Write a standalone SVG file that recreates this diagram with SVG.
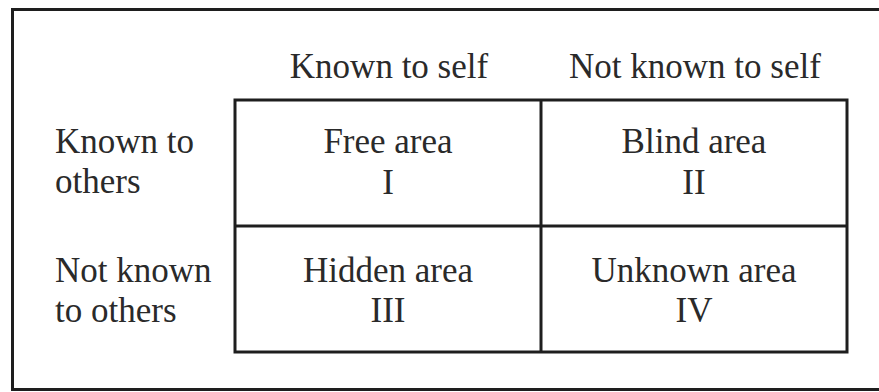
<svg xmlns="http://www.w3.org/2000/svg" width="879" height="392" viewBox="0 0 879 392">
<style>
.t{font-family:"Liberation Serif","Times New Roman",serif;font-size:35px;fill:#2a2a2a}
.c{text-anchor:middle}
.ln{stroke:#1e1e1e;stroke-width:3;fill:none}
</style>
<rect width="879" height="392" fill="#fff"/>
<path class="ln" d="M885,9.5 H12.5 V389.5 H885" stroke-width="3.5"/>
<g id="col-headers">
<text class="t c" x="389" y="78">Known to self</text>
<text class="t c" x="695" y="78">Not known to self</text>
</g>
<g id="row-headers">
<text class="t" x="55" y="153">Known to</text>
<text class="t" x="55" y="193">others</text>
<text class="t" x="55" y="282">Not known</text>
<text class="t" x="55" y="322">to others</text>
</g>
<g id="grid">
<rect class="ln" x="235" y="100" width="612" height="252"/>
<line class="ln" x1="541" y1="100" x2="541" y2="352"/>
<line class="ln" x1="235" y1="226" x2="847" y2="226"/>
</g>
<g id="free">
<text class="t c" x="388" y="153">Free area</text>
<text class="t c" x="388" y="194">I</text>
</g>
<g id="blind">
<text class="t c" x="694" y="153">Blind area</text>
<text class="t c" x="694" y="194">II</text>
</g>
<g id="hidden">
<text class="t c" x="388" y="282">Hidden area</text>
<text class="t c" x="388" y="322">III</text>
</g>
<g id="unknown">
<text class="t c" x="694" y="282">Unknown area</text>
<text class="t c" x="694" y="322">IV</text>
</g>
</svg>
